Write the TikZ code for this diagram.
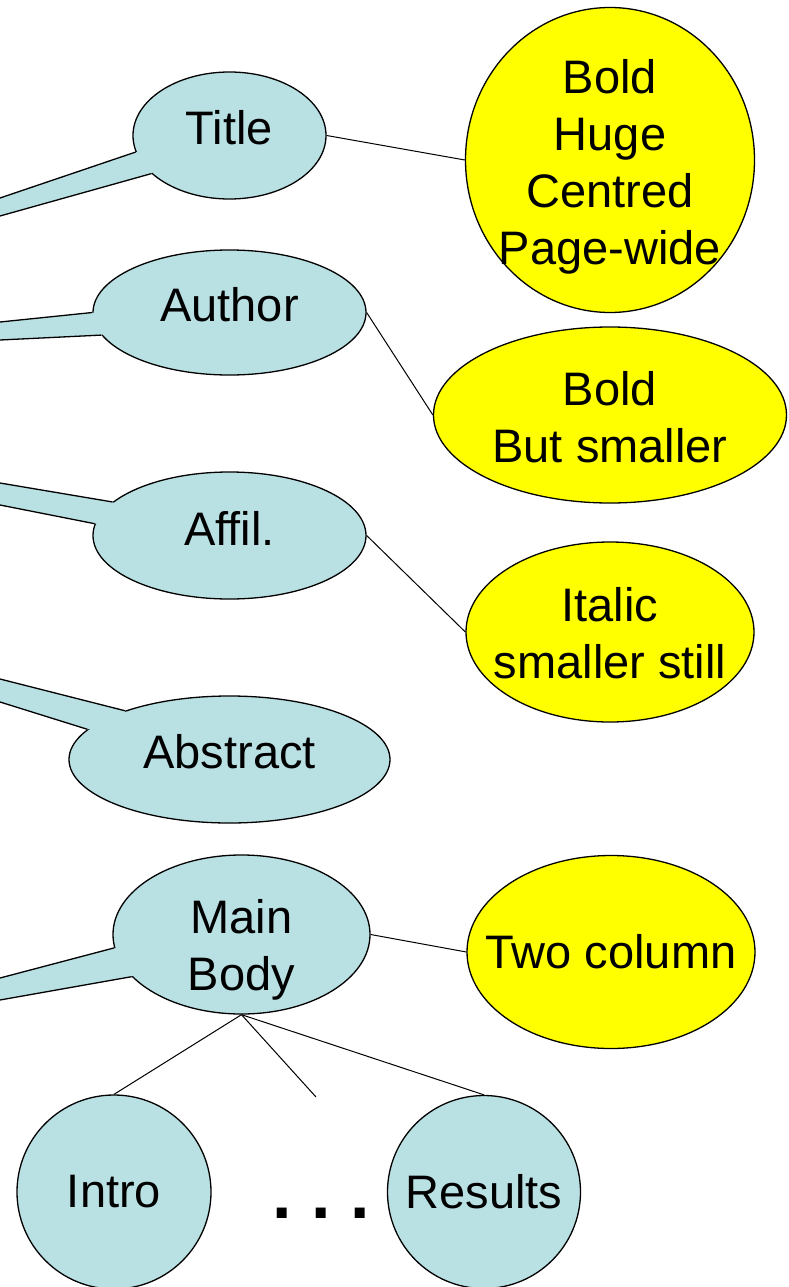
\documentclass[tikz,border=0pt]{standalone}
\usepackage{fontspec}
\setmainfont{Liberation Sans}
\usetikzlibrary{shapes.geometric,calc}
\definecolor{paleblue}{RGB}{185,224,227}
\definecolor{brightyellow}{RGB}{255,255,0}
\tikzset{
  big/.style={font=\fontsize{47}{57}\selectfont, align=center},
  part/.style={ellipse, draw, fill=paleblue, line width=1.3pt, inner sep=0pt},
  rule/.style={ellipse, draw, fill=brightyellow, line width=1.3pt, inner sep=0pt},
  tail/.style={fill=paleblue},
}
\begin{document}
\begin{tikzpicture}[x=1pt,y=-1pt,line width=1pt]
    \useasboundingbox (0,0) rectangle (788,1287);
    \clip (0,0) rectangle (788,1287);
    % parts of the paper
    \node[part, minimum width=193, minimum height=127, label={[big,yshift=8pt]center:Title}] (title) at (229.5,135.5) {};
    \node[part, minimum width=273, minimum height=125, label={[big,yshift=8pt]center:Author}] (author) at (229.5,312.5) {};
    \node[part, minimum width=273, minimum height=127, label={[big,yshift=7pt]center:Affil.}] (affil) at (229.5,535.5) {};
    \node[part, minimum width=321, minimum height=127, label={[big,yshift=8pt]center:Abstract}] (abstract) at (229.5,759.5) {};
    \node[part, minimum width=257, minimum height=159, label={[big,yshift=-15pt]center:Main\\Body}] (body) at (241.5,934.5) {};
    \node[part, minimum width=194, minimum height=194, label={[big]center:Intro}] (intro) at (114,1192) {};
    \node[part, minimum width=193, minimum height=193, label={[big]center:Results}] (results) at (484,1192) {};
    \node[font=\fontsize{70}{70}\selectfont\bfseries, inner sep=0pt] (dots) at (321,1213) {.\ .\ .};
    \coordinate (more) at (316,1097);
    % callout tails off the left edge
    \fill[tail] (0,198) -- (title.190) -- ($(title.198)!0.25!(title.center)$) -- (title.206) -- (0,216) -- cycle;
    \draw[line width=1.3pt] (0,198) -- (title.190) (title.206) -- (0,216);
    \fill[tail] (0,322) -- (author.180) -- ($(author.185)!0.25!(author.center)$) -- (author.190) -- (0,340) -- cycle;
    \draw[line width=1.3pt] (0,322) -- (author.180) (author.190) -- (0,340);
    \fill[tail] (0,483) -- (affil.164) -- ($(affil.170)!0.25!(affil.center)$) -- (affil.175.5) -- (0,505) -- cycle;
    \draw[line width=1.3pt] (0,483) -- (affil.164) (affil.175.5) -- (0,505);
    \fill[tail] (0,679) -- (abstract.155.5) -- ($(abstract.162)!0.2!(abstract.center)$) -- (abstract.168.7) -- (0,702) -- cycle;
    \draw[line width=1.3pt] (0,679) -- (abstract.155.5) (abstract.168.7) -- (0,702);
    \fill[tail] (0,978) -- (body.186) -- ($(body.194)!0.25!(body.center)$) -- (body.201) -- (0,1000) -- cycle;
    \draw[line width=1.3pt] (0,978) -- (body.186) (body.201) -- (0,1000);
    % how each part is set
    \node[rule, minimum width=289, minimum height=305, label={[big,yshift=-7pt]center:Bold\\Huge\\Centred\\Page-wide}] (titlefmt) at (610,160) {};
    \node[rule, minimum width=353, minimum height=176, label={[big,yshift=-2pt]center:Bold\\But smaller}] (authorfmt) at (610,415) {};
    \node[rule, minimum width=288, minimum height=180, label={[big,yshift=-1pt]center:Italic\\smaller still}] (affilfmt) at (610,632) {};
    \node[rule, minimum width=288, minimum height=193, label={[big]center:Two column}] (bodyfmt) at (611,952) {};
    \draw (title.east) -- (titlefmt.west);
    \draw (author.east) -- (authorfmt.west);
    \draw (affil.east) -- (affilfmt.west);
    \draw (body.east) -- (bodyfmt.west);
    \draw (body.south) -- (intro.north);
    \draw (body.south) -- (more);
    \draw (body.south) -- (results.north);
\end{tikzpicture}
\end{document}
